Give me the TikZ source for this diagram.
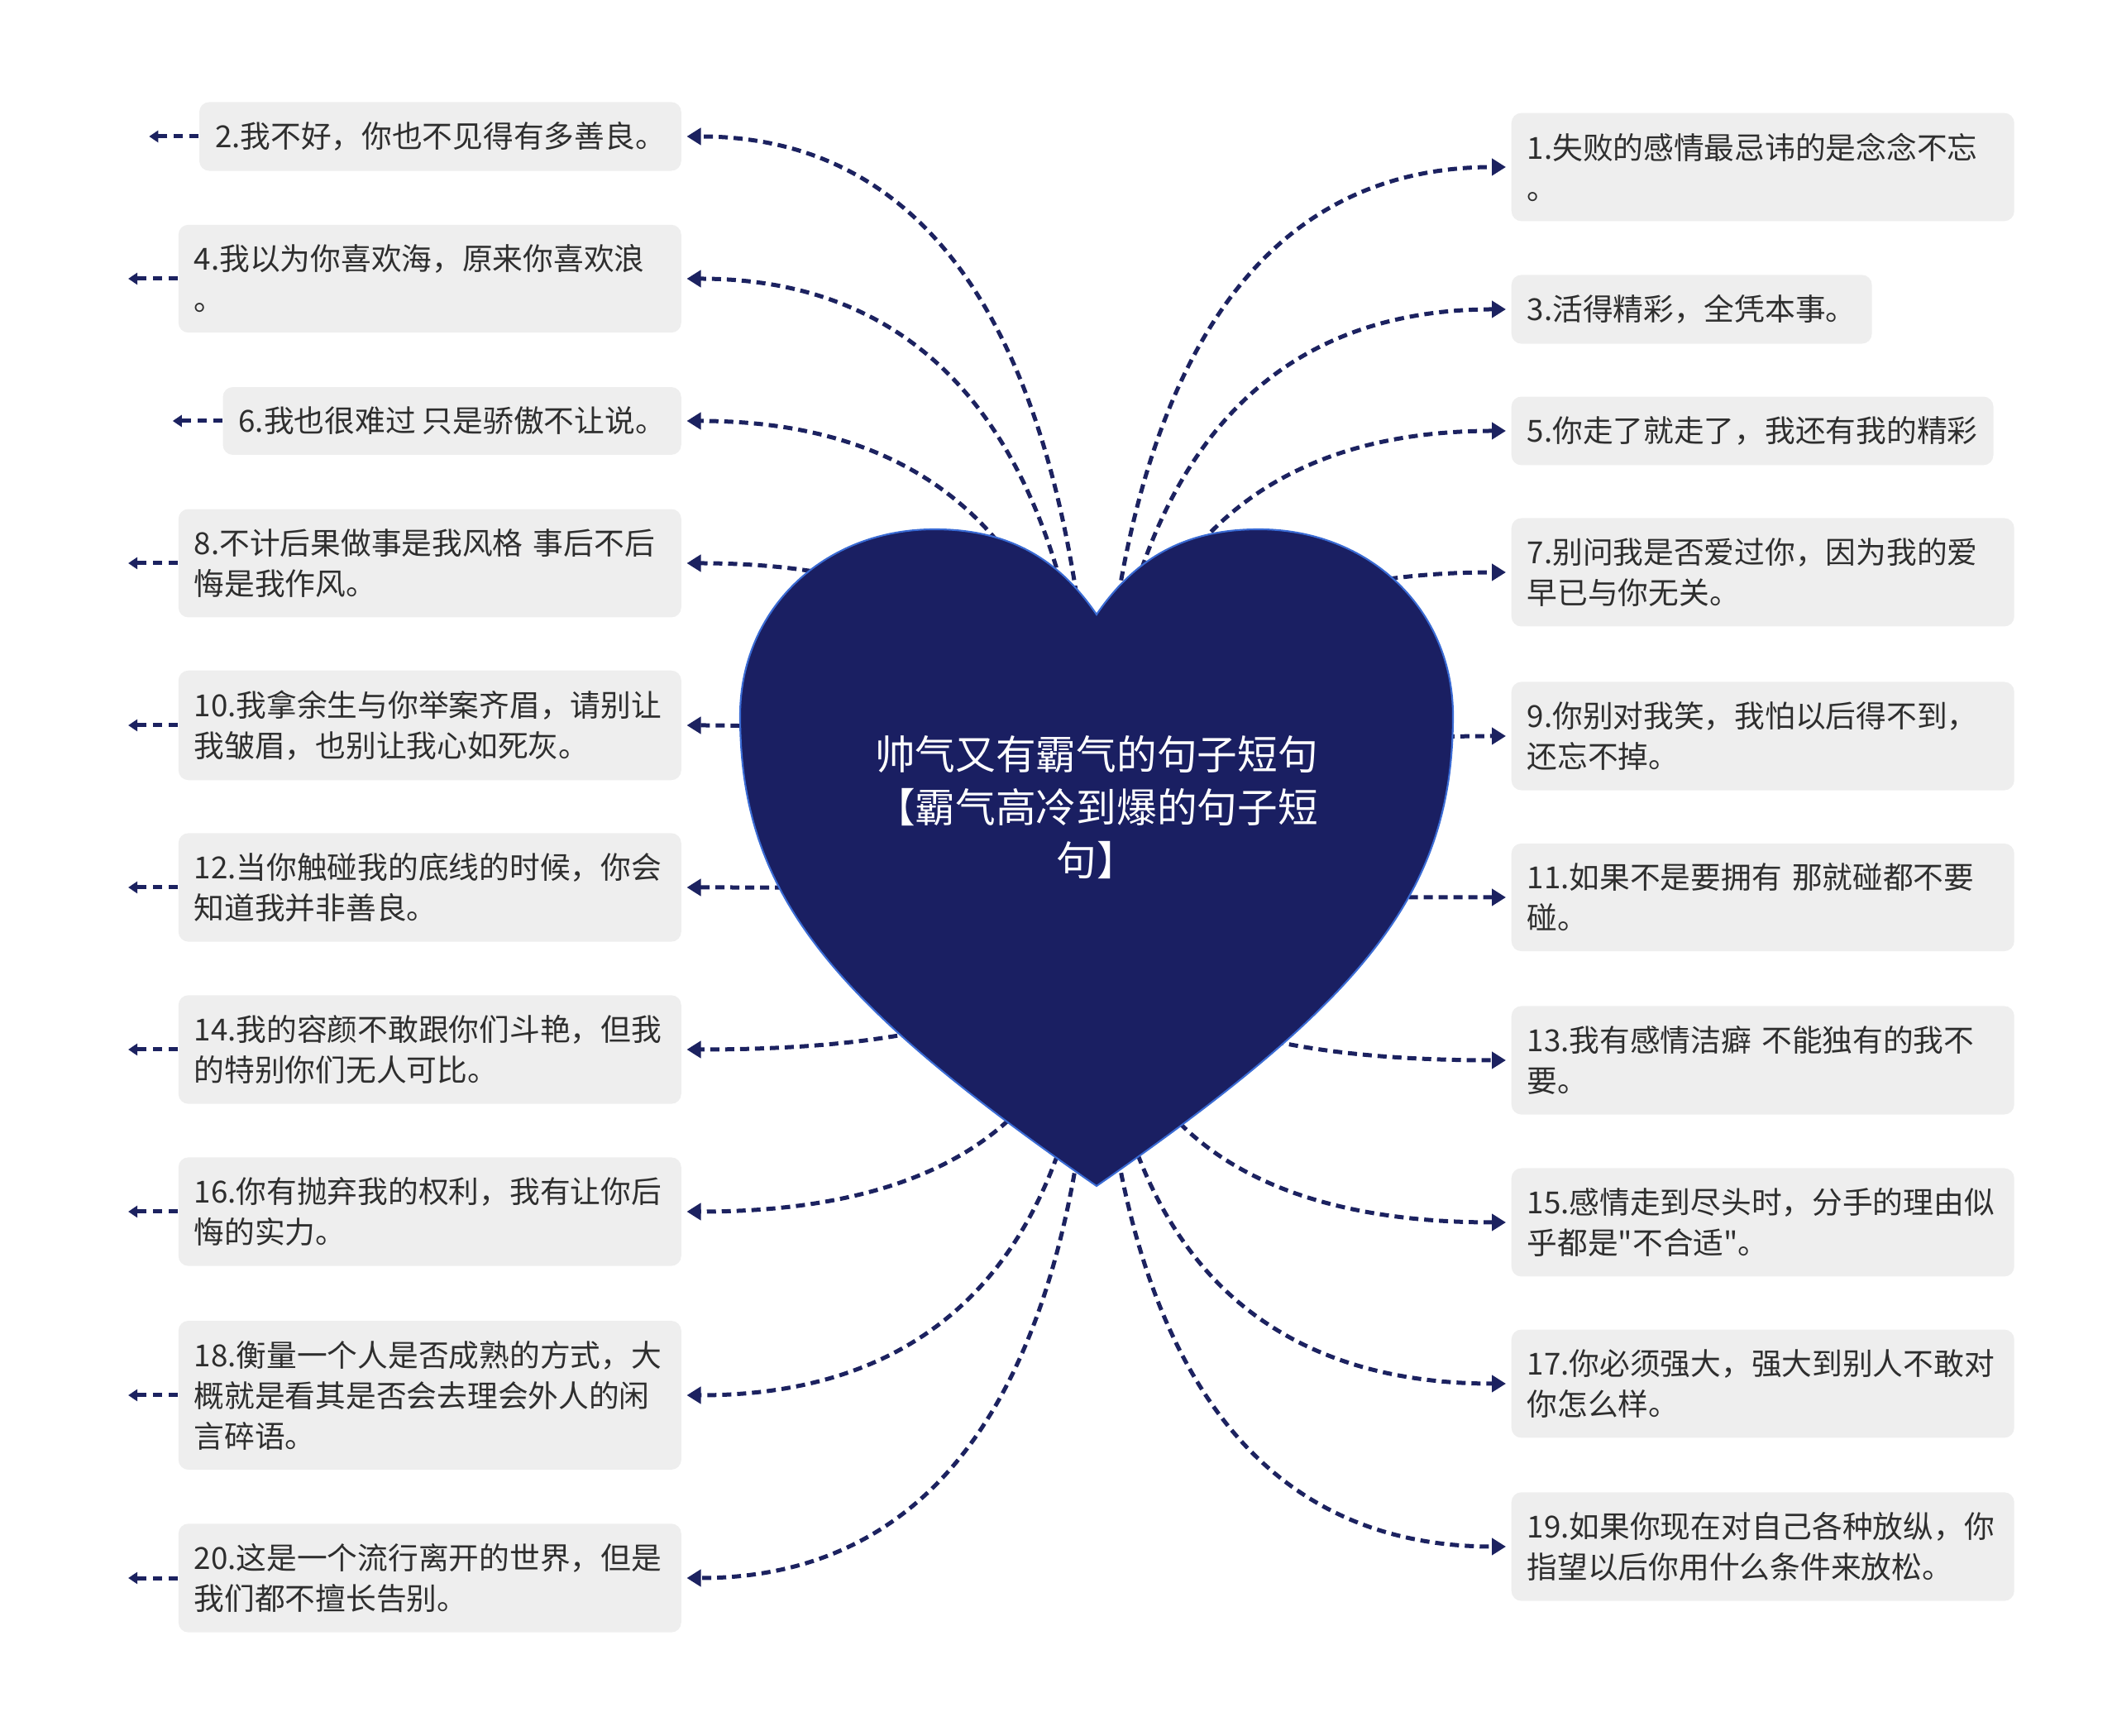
\documentclass[tikz,border=0pt]{standalone}
\usepackage{fontspec}
\setmainfont{Noto Sans CJK SC}[Ligatures=TeXOff]
\usetikzlibrary{arrows.meta,calc}
\definecolor{heartfill}{HTML}{1A1F62}
\definecolor{heartline}{HTML}{3A6BD4}
\definecolor{linkcol}{HTML}{1C2260}
\definecolor{leaffill}{HTML}{EEEEEE}
\definecolor{leaftext}{HTML}{2E2E2E}
\pgfdeclarelayer{bg}
\pgfsetlayers{bg,main}
\tikzset{
  leaf/.style={fill=leaffill,text=leaftext,rounded corners=0.12cm,
    inner xsep=0.19cm,inner ysep=0.24cm,align=left,
    font=\fontsize{10.45}{13.95}\selectfont},
  leafw/.style={leaf,text width=5.7cm},
  link/.style={linkcol,line width=0.05cm,dash pattern=on 0.11cm off 0.07cm,
    shorten >=0.06cm,-{Triangle[length=0.17cm,width=0.2cm]}},
  stub/.style={linkcol,line width=0.05cm,dash pattern=on 0.11cm off 0.08cm,
    -{Triangle[length=0.11cm,width=0.14cm]}}
}

\begin{document}
\begin{tikzpicture}
\useasboundingbox (0,0) rectangle (25.6,20.98);
\coordinate (hub) at (13.26,10.2);

% left column
\node[leaf,anchor=east] (n2) at (8.245,19.33) {2.我不好，你也不见得有多善良。};
\node[leafw,anchor=east] (n4) at (8.245,17.61) {4.我以为你喜欢海，原来你喜欢浪\\。};
\node[leaf,anchor=east] (n6) at (8.245,15.89) {6.我也很难过 只是骄傲不让说。};
\node[leafw,anchor=east] (n8) at (8.245,14.17) {8.不计后果做事是我风格 事后不后\\悔是我作风。};
\node[leafw,anchor=east] (n10) at (8.245,12.21) {10.我拿余生与你举案齐眉，请别让\\我皱眉，也别让我心如死灰。};
\node[leafw,anchor=east] (n12) at (8.245,10.25) {12.当你触碰我的底线的时候，你会\\知道我并非善良。};
\node[leafw,anchor=east] (n14) at (8.245,8.29) {14.我的容颜不敢跟你们斗艳，但我\\的特别你们无人可比。};
\node[leafw,anchor=east] (n16) at (8.245,6.33) {16.你有抛弃我的权利，我有让你后\\悔的实力。};
\node[leafw,anchor=east] (n18) at (8.245,4.11) {18.衡量一个人是否成熟的方式，大\\概就是看其是否会去理会外人的闲\\言碎语。};
\node[leafw,anchor=east] (n20) at (8.245,1.90) {20.这是一个流行离开的世界，但是\\我们都不擅长告别。};

% right column
\node[leafw,anchor=west] (n1) at (18.27,18.96) {1.失败的感情最忌讳的是念念不忘\\。};
\node[leaf,anchor=west] (n3) at (18.27,17.24) {3.活得精彩，全凭本事。};
\node[leaf,anchor=west] (n5) at (18.27,15.77) {5.你走了就走了，我还有我的精彩};
\node[leafw,anchor=west] (n7) at (18.27,14.06) {7.别问我是否爱过你，因为我的爱\\早已与你无关。};
\node[leafw,anchor=west] (n9) at (18.27,12.08) {9.你别对我笑，我怕以后得不到，\\还忘不掉。};
\node[leafw,anchor=west] (n11) at (18.27,10.13) {11.如果不是要拥有 那就碰都不要\\碰。};
\node[leafw,anchor=west] (n13) at (18.27,8.16) {13.我有感情洁癖 不能独有的我不\\要。};
\node[leafw,anchor=west] (n15) at (18.27,6.20) {15.感情走到尽头时，分手的理由似\\乎都是"不合适"。};
\node[leafw,anchor=west] (n17) at (18.27,4.25) {17.你必须强大，强大到别人不敢对\\你怎么样。};
\node[leafw,anchor=west] (n19) at (18.27,2.28) {19.如果你现在对自己各种放纵，你\\指望以后你用什么条件来放松。};

% heart
\draw[fill=heartfill,draw=heartline,line width=0.6pt]
  (13.26,13.55) .. controls (12.75,14.3) and (12.1,14.58) .. (11.3,14.58)
  .. controls (9.95,14.58) and (8.95,13.6) .. (8.95,12.33)
  .. controls (8.95,10.2) and (10.0,8.9) .. (13.26,6.64)
  .. controls (16.52,8.9) and (17.57,10.2) .. (17.57,12.33)
  .. controls (17.57,13.6) and (16.57,14.58) .. (15.22,14.58)
  .. controls (14.42,14.58) and (13.77,14.3) .. (13.26,13.55) -- cycle;
\node[text=white,align=center,font=\fontsize{13.85}{18.2}\selectfont] (root) at (13.26,11.22)
  {帅气又有霸气的句子短句\\【霸气高冷到爆的句子短\\句】};

\begin{pgfonlayer}{bg}
\foreach \n in {2,4,...,20} {
  \draw[link] (hub) .. controls ($(hub)!2/3!(hub |- n\n.east)$) and ($(n\n.east)!2/3!(hub |- n\n.east)$) .. (n\n.east);
  \draw[stub] (n\n.west) -- ++(-0.6,0);
}
\foreach \n in {1,3,...,19} {
  \draw[link] (hub) .. controls ($(hub)!2/3!(hub |- n\n.west)$) and ($(n\n.west)!2/3!(hub |- n\n.west)$) .. (n\n.west);
}
\end{pgfonlayer}
\end{tikzpicture}
\end{document}
